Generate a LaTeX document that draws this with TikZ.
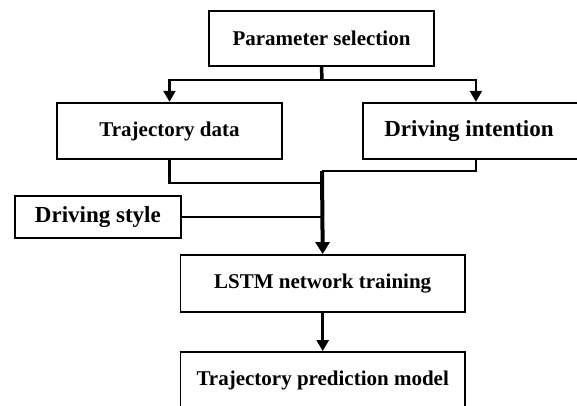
\documentclass[tikz,border=0pt]{standalone}
\usepackage{fontspec}
\setmainfont{Liberation Serif}
\usetikzlibrary{arrows.meta,calc}
\begin{document}
\begin{tikzpicture}[x=1pt,y=-1pt,
  box/.style={draw,line width=1.8pt,rectangle,inner sep=0pt,
    font=\fontsize{21}{25}\selectfont\bfseries},
  dbox/.style={box,font=\fontsize{23}{27}\selectfont\bfseries},
  dlabel/.style={inner sep=0pt,font=\fontsize{23}{27}\selectfont\bfseries},
  conn/.style={line width=2.3pt},
  arr/.style={line width=2.3pt,-{Triangle[width=12pt,length=11pt]}},
  thickarr/.style={line width=4pt,-{Triangle[width=14pt,length=12pt]}}]
\useasboundingbox (0,0) rectangle (577,406);
\fill[white] (0,0) rectangle (577,406);
% boxes
\node[box,minimum width=224.5pt,minimum height=55pt] (ps) at (321.5,38.2) {Parameter selection};
\node[box,minimum width=225pt,minimum height=56.6pt] (td) at (169.5,131) {Trajectory data};
\node[dbox,minimum width=218pt,minimum height=56.6pt,anchor=west] (di) at (362,131) {};
\node[dlabel] (dit) at (469,131) {Driving intention};
\node[dbox,minimum width=166.3pt,minimum height=42.3pt] (ds) at (97.9,216.8) {Driving style};
\node[box,minimum width=284.5pt,minimum height=56.7pt] (lstm) at (322.7,283.3) {LSTM network training};
\node[box,minimum width=284.5pt,minimum height=56pt] (tpm) at (322.7,380) {Trajectory prediction model};
% junctions
\coordinate (j1) at (322,80);
\coordinate (m0) at (322,171);
\coordinate (m1) at (322,182.7);
% connectors
\draw[line width=3.5pt] (ps.south) -- (j1);
\draw[arr] (j1) -| (td.north);
\draw[arr] (j1) -| ([xshift=4pt]di.north);
\draw[conn] (td.south) |- (m1);
\draw[conn] ([xshift=4pt]di.south) |- (m0);
\draw[conn,line width=2pt] (ds.east) -- (ds.east -| m0);
\draw[thickarr] (m0) -- (lstm.north);
\draw[arr,line width=2.5pt] (lstm.south) -- (tpm.north);
\end{tikzpicture}
\end{document}
